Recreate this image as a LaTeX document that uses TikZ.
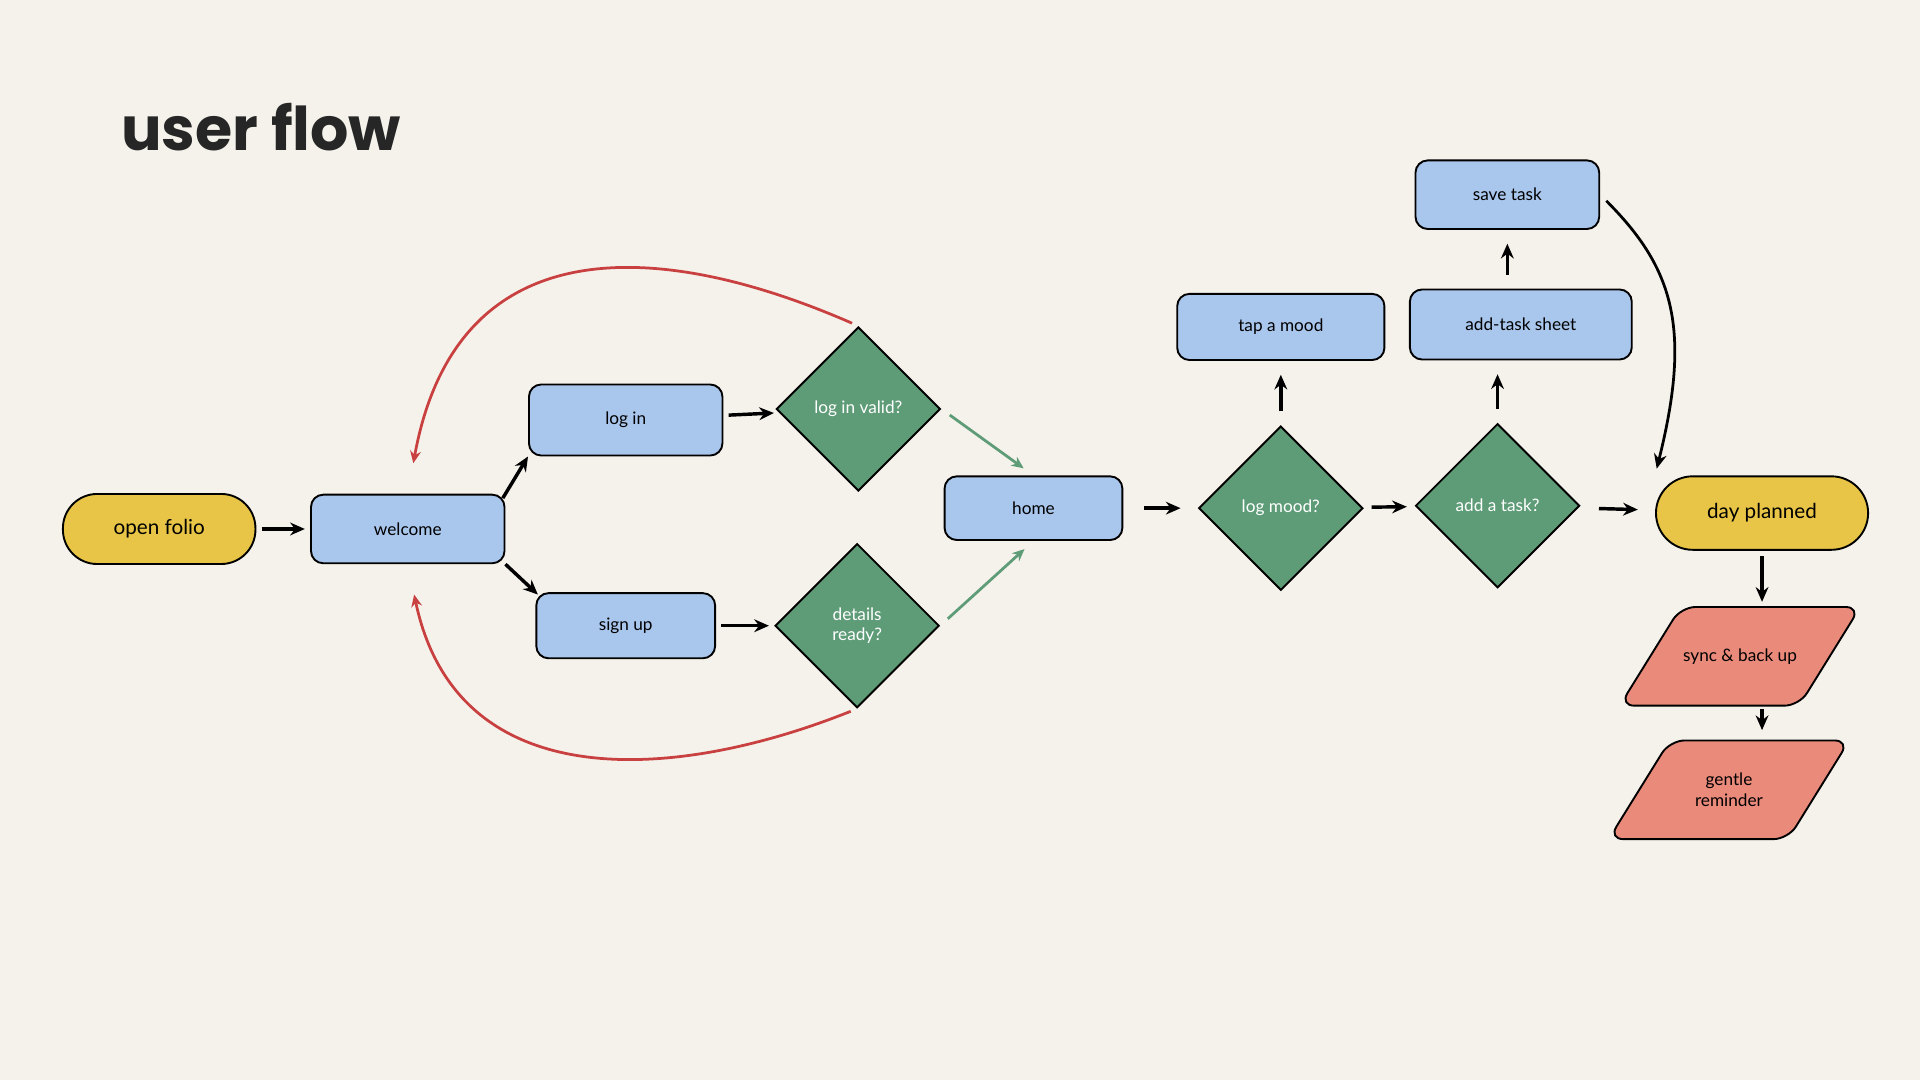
\documentclass[tikz,border=0pt]{standalone}
\usepackage{fontspec}
\setmainfont{Lato}
\newfontfamily\titlefont{Poppins}
\usetikzlibrary{shapes.geometric, arrows.meta, positioning, calc, backgrounds}
\definecolor{paper}{HTML}{F5F2EB}
\definecolor{pillyellow}{HTML}{E8C547}
\definecolor{boxblue}{HTML}{A9C6EC}
\definecolor{decgreen}{HTML}{5E9C78}
\definecolor{outsalmon}{HTML}{E98A7A}
\definecolor{backred}{HTML}{C94040}
\tikzset{
	pill/.style={rectangle, draw, fill=pillyellow, line width=1.1pt, rounded corners=0.7cm, minimum width=3.93cm, minimum height=1.43cm, font=\large},
	screen/.style={rectangle, draw, fill=boxblue, line width=1.1pt, rounded corners=0.25cm, minimum height=1.4cm, font=\normalsize},
	check/.style={diamond, draw, fill=decgreen, line width=1.1pt, minimum width=3.35cm, minimum height=3.35cm, inner sep=0pt, text=white, align=center},
	outtext/.style={minimum width=3.65cm, minimum height=2cm, align=center, inner sep=0pt},
	outshape/.style={draw, fill=outsalmon, line width=1.1pt, rounded corners=0.3cm},
	line/.style={draw, line width=2pt, -{Stealth[length=3mm, width=2.6mm]}, shorten <=3pt, shorten >=3pt},
	yes/.style={draw, decgreen, line width=1.6pt, -{Stealth[length=2.5mm, width=2.2mm]}, shorten <=6pt, shorten >=7pt},
	retry/.style={draw, backred, line width=1.6pt, -{Stealth[length=2.5mm, width=2.2mm]}}
}
\begin{document}
\begin{tikzpicture}[x=0.025cm, y=-0.025cm]
	\useasboundingbox (0,0) rectangle (1568,882);
	
	% title
	\node[anchor=west, font={\titlefont\bfseries\fontsize{35}{40}\selectfont}, text=black!85] (title) at (94,104) {user flow};
	
	% entry
	\node[pill] (open) at (130,432) {open folio};
	\node[screen, minimum width=3.95cm] (welcome) at (333,432) {welcome};
	\node[screen, minimum width=3.95cm, minimum height=1.45cm] (login) at (511,343) {log in};
	\node[screen, minimum width=3.65cm, minimum height=1.33cm] (signup) at (511,511) {sign up};
	\node[check] (valid) at (701,334) {log in valid?};
	\node[check] (ready) at (700,511) {details\\ready?};
	
	% main flow
	\node[screen, minimum width=3.63cm, minimum height=1.3cm] (home) at (844,415) {home};
	\node[check] (mood) at (1046,415) {log mood?};
	\node[screen, minimum width=4.23cm, minimum height=1.35cm] (tap) at (1046,267) {tap a mood};
	\node[check] (task) at (1223,413) {add a task?};
	\node[screen, minimum width=4.53cm, minimum height=1.43cm] (sheet) at (1242,265) {add-task sheet};
	\node[screen, minimum width=3.75cm] (save) at (1231,159) {save task};
	\node[pill, minimum width=4.33cm, minimum height=1.5cm, rounded corners=0.75cm] (done) at (1439,419) {day planned};
	
	% outputs
	\node[outtext] (sync) at (1421,536) {sync \& back up};
	\node[outtext] (remind) at (1412,645) {gentle\\reminder};
	\begin{pgfonlayer}{background}
		\fill[paper] (0,0) rectangle (1568,882);
		\foreach \n in {sync, remind}
			\draw[outshape] ($(\n.south west)+(-25,0)$) -- ($(\n.south east)+(-25,0)$) -- ($(\n.north east)+(25,0)$) -- ($(\n.north west)+(25,0)$) -- cycle;
	\end{pgfonlayer}
	
	% Paths
	\draw[line] (open) -- (welcome);
	\draw[line, shorten <=-3pt, shorten >=0pt] (welcome.north east) -- (login.south west);
	\draw[line, shorten <=0pt, shorten >=-2pt] (welcome.south east) -- (signup.north west);
	\draw[line] (login) -- (valid);
	\draw[line] (signup) -- (ready);
	\draw[yes] (valid.east) -- (home.north);
	\draw[yes] (ready.east) -- (home.south);
	\draw[line, shorten <=12pt, shorten >=10pt] (home) -- (mood);
	\draw[line, shorten <=5pt, shorten >=5pt] (mood) -- (task);
	\draw[line, shorten <=12pt, shorten >=10pt] (task) -- (done);
	\draw[line, shorten <=8pt, shorten >=8pt] (mood) -- (tap);
	\draw[line, shorten <=8pt, shorten >=8pt] (task.north) -- (task.north |- sheet.south);
	\draw[line, shorten <=8pt, shorten >=8pt] (save.south |- sheet.north) -- (save.south);
	\draw[line, line width=1.6pt, shorten <=5pt, shorten >=4pt] (save.east) .. controls +(60,60) and +(30,-120) .. (done.north west);
	\draw[line] (done.south) -- (done.south |- sync.north);
	\draw[line, shorten <=2pt, shorten >=6pt] (done.south |- sync.south) -- (done.south |- remind.north);
	
	% retries
	\draw[retry, shorten <=4pt, shorten >=18pt] (valid.north) .. controls +(-160,-70) and +(40,-220) .. (welcome.north);
	\draw[retry, shorten <=4pt, shorten >=18pt] (ready.south) .. controls +(-150,60) and +(40,190) .. (welcome.south);
\end{tikzpicture}
\end{document}
